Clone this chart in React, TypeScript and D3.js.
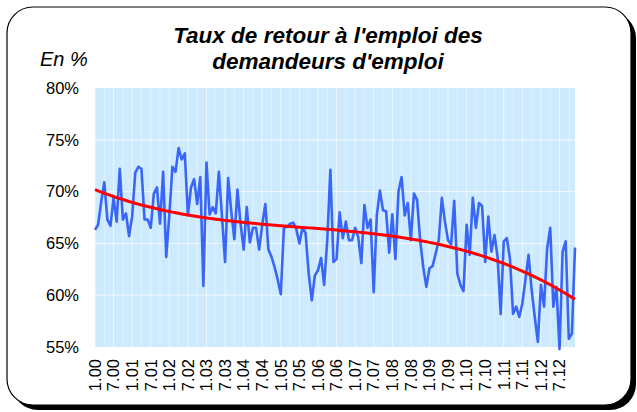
import React from "react";
import { line, range, scaleLinear } from "d3";

// monthly return-to-work rate, Jan 2000 .. Dec 2012 (in %)
const rates = [
  66.3, 66.8, 69.0, 70.9, 67.3, 66.7, 69.4, 67.1, 72.2, 67.3, 67.9, 65.7,
  67.6, 71.8, 72.4, 72.2, 67.3, 67.3, 66.5, 69.8, 70.4, 66.9, 71.9, 63.7,
  67.7, 72.4, 71.9, 74.2, 73.1, 73.7, 67.7, 70.4, 71.2, 68.8, 71.4, 60.9,
  72.8, 67.8, 68.5, 67.9, 71.9, 67.6, 63.2, 71.3, 68.1, 65.4, 70.2, 66.9,
  64.4, 68.5, 65.1, 66.5, 66.5, 64.4, 66.8, 68.8, 64.4, 63.7, 62.7, 61.5,
  60.1, 66.5, 66.6, 66.9, 67.0, 66.4, 65.0, 66.5, 66.0, 62.1, 59.5, 61.9,
  62.4, 63.6, 61.0, 65.3, 72.1, 63.2, 63.5, 68.0, 65.5, 67.1, 65.3, 65.3,
  66.5, 65.6, 63.1, 68.7, 66.5, 67.3, 60.3, 67.7, 70.1, 68.2, 68.1, 64.1,
  67.8, 63.5, 70.0, 71.4, 67.7, 68.9, 65.3, 69.8, 69.2, 65.3, 62.7, 60.8,
  62.6, 62.8, 64.0, 65.3, 69.4, 67.1, 65.3, 64.9, 69.1, 62.1, 61.0, 60.4,
  66.8, 63.9, 69.4, 66.5, 68.9, 68.6, 63.2, 67.6, 64.2, 65.8, 63.7, 58.2,
  65.2, 65.5, 63.5, 58.2, 58.9, 57.9, 59.2, 61.5, 63.9, 60.5, 57.9, 55.5,
  61.0, 58.9, 64.5, 66.5, 58.9, 60.8, 54.8, 64.2, 65.2, 55.8, 56.3, 64.6
];

const tickLabels = [
  "1.00", "7.00", "1.01", "7.01", "1.02", "7.02", "1.03", "7.03", "1.04",
  "7.04", "1.05", "7.05", "1.06", "7.06", "1.07", "7.07", "1.08", "7.08",
  "1.09", "7.09", "1.10", "7.10", "1.11", "7.11", "1.12", "7.12"
];
const yTicks = [55, 60, 65, 70, 75, 80];

// polynomial trend (order 3), least squares like the spreadsheet trendline
function polyFit(ys: number[], order: number) {
  const n = ys.length;
  const k = order + 1;
  const A: number[][] = range(k).map(() => range(k + 1).map(() => 0));
  ys.forEach((y, i) => {
    const t = i / (n - 1);
    for (let r = 0; r < k; r++) {
      for (let c = 0; c < k; c++) A[r][c] += Math.pow(t, r + c);
      A[r][k] += y * Math.pow(t, r);
    }
  });
  for (let p = 0; p < k; p++) {
    let best = p;
    for (let r = p + 1; r < k; r++) if (Math.abs(A[r][p]) > Math.abs(A[best][p])) best = r;
    [A[p], A[best]] = [A[best], A[p]];
    for (let r = 0; r < k; r++) {
      if (r === p) continue;
      const f = A[r][p] / A[p][p];
      for (let c = p; c <= k; c++) A[r][c] -= f * A[p][c];
    }
  }
  const coef = range(k).map(r => A[r][k] / A[r][r]);
  return ys.map((_, i) => {
    const t = i / (n - 1);
    return coef.reduce((s, c, j) => s + c * Math.pow(t, j), 0);
  });
}

export default function App() {
  const LEFT = 95;
  const RIGHT = 575;
  const TOP = 88;
  const BOTTOM = 347;

  const xScale = scaleLinear().domain([0, rates.length - 1]).range([LEFT, RIGHT]);
  const yScale = scaleLinear().domain([55, 80]).range([BOTTOM, TOP]);

  const trend = polyFit(rates, 3);

  const lineFn = line<number>()
    .x((_, i) => xScale(i))
    .y(d => yScale(d));

  const font = "Arial, 'Liberation Sans', sans-serif";
  const gridX = range(0, rates.length, 3);

  return (
    <div style={{ position: "absolute", left: 0, top: 0 }}>
      <svg width={637} height={412} style={{ display: "block" }}>
        <rect x={12} y={12} width={624} height={398} rx={26} fill="#000" />
        <rect x={7} y={7} width={624} height={398} rx={26} fill="#fff" stroke="#000" strokeWidth={1.2} />

        <text x={328} y={43} textAnchor="middle" fontFamily={font} fontSize={22.5}
          fontWeight="bold" fontStyle="italic">Taux de retour à l'emploi des</text>
        <text x={328} y={69} textAnchor="middle" fontFamily={font} fontSize={22.5}
          fontWeight="bold" fontStyle="italic">demandeurs d'emploi</text>
        <text x={40} y={66} fontFamily={font} fontSize={20} fontStyle="italic">En %</text>

        <rect x={LEFT} y={TOP} width={RIGHT - LEFT} height={BOTTOM - TOP} fill="#cdeaff" />
        {gridX.map(i => (
          <line key={i} x1={xScale(i)} x2={xScale(i)} y1={TOP} y2={BOTTOM}
            stroke="#fff" strokeOpacity={i % 6 === 0 ? 0.6 : 0.35} strokeWidth={1} />
        ))}
        {yTicks.slice(1, -1).map(v => (
          <line key={v} x1={LEFT} x2={RIGHT} y1={yScale(v)} y2={yScale(v)}
            stroke="#fff" strokeOpacity={0.7} strokeWidth={1} />
        ))}

        <path d={lineFn(rates)!} fill="none" stroke="#3a66f8" strokeWidth={2.6}
          strokeLinejoin="round" />
        <path d={lineFn(trend)!} fill="none" stroke="#ff0000" strokeWidth={3} />

        {yTicks.map(v => (
          <text key={v} x={79} y={yScale(v)} dy="0.35em" textAnchor="end"
            fontFamily={font} fontSize={16.5}>{v}%</text>
        ))}

        {tickLabels.map((lab, k) => (
          <text key={lab} transform={`translate(${xScale(k * 6)}, 359) rotate(-90)`}
            dy="0.35em" textAnchor="end" fontFamily={font} fontSize={16.5}>{lab}</text>
        ))}
      </svg>
    </div>
  );
}
